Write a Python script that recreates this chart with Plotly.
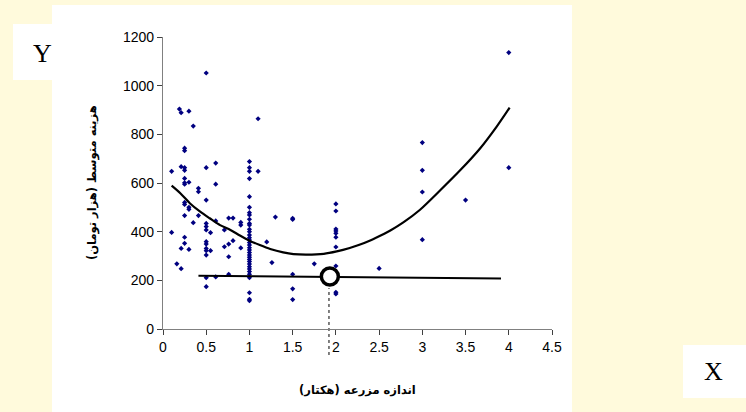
import plotly.graph_objects as go

# ---- data ----
pts_x = ([0.1] * 2 + [0.16] + [0.19] + [0.21] * 4 +
         [0.25] * 12 + [0.3] * 5 + [0.35] * 2 + [0.41] * 3 +
         [0.5] * 13 + [0.55] * 2 + [0.61] * 4 + [0.71] * 2 + [0.76] * 4 +
         [0.81] * 2 + [0.9] * 3 + [1.0] * 34 + [1.1] * 2 + [1.2] + [1.26] + [1.3] +
         [1.5] * 5 + [1.75] + [2.0] * 10 + [2.5] + [3.0] * 4 + [3.5] + [4.0] * 2)
pts_y = ([648, 397] + [268] + [904] + [889, 667, 331, 248] +
         [743, 733, 663, 652, 619, 601, 595, 520, 512, 466, 377, 352] +
         [895, 603, 500, 492, 327] + [834, 437] + [578, 564, 466] +
         [1052, 663, 530, 434, 421, 407, 359, 349, 331, 322, 304, 211, 174] +
         [396, 322] + [682, 595, 444, 214] + [407, 338] + [456, 349, 297, 225] +
         [456, 363] + [438, 427, 333] +
         [688, 663, 648, 618, 544, 500, 478, 469, 451, 434, 427, 410, 400, 386,
          375, 366, 355, 345, 334, 325, 314, 304, 295, 286, 277, 267, 256, 247,
          236, 225, 211, 149, 122, 116] +
         [864, 648] + [358] + [273] + [460] +
         [455, 450, 225, 165, 121] + [268] +
         [514, 485, 411, 403, 393, 377, 337, 259, 151, 144] + [249] +
         [766, 652, 563, 367] + [530] + [1136, 663])

curve_x = [0.1, 0.2, 0.31, 0.43, 0.54, 0.66, 0.78, 0.89, 1.0, 1.12, 1.24, 1.39,
           1.51, 1.66, 1.86, 2.01, 2.16, 2.32, 2.47, 2.63, 2.78, 2.97, 3.21,
           3.44, 3.67, 3.86, 4.01]
curve_y = [589, 558, 517, 482, 455, 427, 407, 384, 363, 345, 329, 315,
           308, 306, 309, 319, 333, 352, 376, 405, 438, 489, 571,
           653, 743, 832, 910]

hline_x = [0.41, 3.91]
hline_y = [219, 208]

circle_x = [1.93]
circle_y = [216]

x_ticks = [0, 0.5, 1, 1.5, 2, 2.5, 3, 3.5, 4, 4.5]
y_ticks = [0, 200, 400, 600, 800, 1000, 1200]

x_title = "اندازه مزرعه (هکتار)"
y_title = "هزینه متوسط (هزار تومان)"

fig = go.Figure()
fig.add_trace(go.Scatter(x=pts_x, y=pts_y, mode="markers",
                         marker=dict(symbol="diamond", size=4, color="#000080"),
                         hoverinfo="skip"))
fig.add_trace(go.Scatter(x=curve_x, y=curve_y, mode="lines",
                         line=dict(color="black", width=2.2, shape="spline", smoothing=0.8)))
fig.add_trace(go.Scatter(x=hline_x, y=hline_y, mode="lines",
                         line=dict(color="black", width=2)))
fig.add_trace(go.Scatter(x=circle_x, y=circle_y, mode="markers",
                         marker=dict(symbol="circle", size=17, color="white",
                                     line=dict(color="black", width=3.5)),
                         cliponaxis=False))

shapes = [
    # white panel
    dict(type="rect", xref="paper", yref="paper", x0=-0.2853, x1=1.0514,
         y0=-0.2842, y1=1.1096, fillcolor="white", line=dict(width=0), layer="below"),
    # Y box
    dict(type="rect", xref="paper", yref="paper", x0=-0.3856, x1=-0.2853,
         y0=0.8527, y1=1.0445, fillcolor="white", line=dict(width=0), layer="below"),
    # X box
    dict(type="rect", xref="paper", yref="paper", x0=1.3368, x1=1.4987,
         y0=-0.2363, y1=-0.0548, fillcolor="white", line=dict(width=0), layer="below"),
    # dotted drop line
    dict(type="line", xref="x", yref="paper", x0=circle_x[0] - 0.01, x1=circle_x[0] - 0.01,
         y0=-0.089, y1=0.14, line=dict(color="black", width=1, dash="dot"), layer="below"),
]

annotations = [
    dict(text="<b>" + x_title + "</b>", xref="paper", yref="paper", x=0.5, y=-0.209,
         showarrow=False, font=dict(family="DejaVu Sans", size=11.5, color="black"),
         xanchor="center", yanchor="middle"),
    dict(text="<b>" + y_title + "</b>", xref="paper", yref="paper", x=-0.1825, y=0.5,
         showarrow=False, textangle=-90,
         font=dict(family="DejaVu Sans", size=11.5, color="black"),
         xanchor="center", yanchor="middle"),
    dict(text="Y", xref="paper", yref="paper", x=-0.311, y=0.942,
         showarrow=False, font=dict(family="Liberation Serif", size=26, color="black"),
         xanchor="center", yanchor="middle"),
    dict(text="X", xref="paper", yref="paper", x=1.416, y=-0.144,
         showarrow=False, font=dict(family="Liberation Serif", size=26, color="black"),
         xanchor="center", yanchor="middle"),
]

fig.update_layout(
    width=746, height=412,
    margin=dict(l=163, r=194, t=37, b=83),
    paper_bgcolor="#FFFADC",
    plot_bgcolor="rgba(0,0,0,0)",
    showlegend=False,
    shapes=shapes,
    annotations=annotations,
    font=dict(family="Liberation Sans", size=14, color="black"),
    xaxis=dict(range=[0, 4.5], tickvals=x_ticks, ticktext=[str(v) for v in x_ticks],
               showgrid=False, zeroline=False, showline=True, linecolor="#808080",
               linewidth=1.3, ticks="outside", ticklen=5, tickcolor="#404040",
               tickfont=dict(size=14)),
    yaxis=dict(range=[0, 1200], tickvals=y_ticks, showgrid=False, zeroline=False,
               showline=True, linecolor="#808080", linewidth=1.3, ticks="outside",
               ticklen=5, tickcolor="#404040", tickfont=dict(size=14)),
)

fig.write_html("out.html", config={"displayModeBar": False},
               post_script="document.body.style.margin='0';document.body.style.overflow='hidden';")
